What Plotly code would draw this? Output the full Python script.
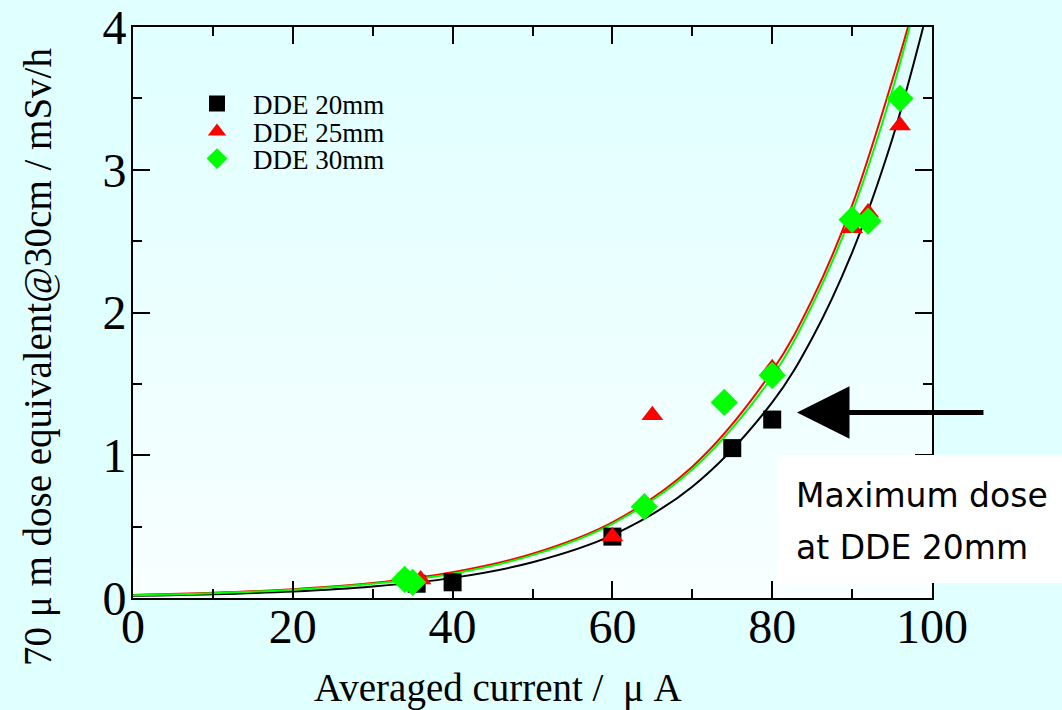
import plotly.graph_objects as go

# ---- measured data ----
x20 = [35.5, 40, 60, 75, 80]
y20 = [0.10, 0.11, 0.43, 1.05, 1.25]

x25 = [36, 60, 65, 80, 90, 92, 96]
y25 = [0.13, 0.43, 1.28, 1.61, 2.59, 2.70, 3.31]

x30 = [34, 35, 64, 74, 80, 90, 92, 96]
y30 = [0.13, 0.11, 0.64, 1.37, 1.56, 2.65, 2.64, 3.50]

# fitted curves
cx20 = [0, 10, 20, 30, 40, 50, 60, 70, 80, 85, 90, 95, 98.9]
cy20 = [0.015, 0.026, 0.045, 0.080, 0.141, 0.25, 0.44, 0.78, 1.37, 1.82, 2.42, 3.21, 4.0]

cx25 = [0, 10, 20, 30, 40, 50, 60, 70, 80, 85, 90, 95, 97.0]
cy25 = [0.021, 0.036, 0.062, 0.105, 0.18, 0.31, 0.53, 0.92, 1.59, 2.09, 2.75, 3.62, 4.0]

cx30 = [0, 10, 20, 30, 40, 50, 60, 70, 80, 85, 90, 95, 97.2]
cy30 = [0.020, 0.034, 0.058, 0.10, 0.17, 0.30, 0.52, 0.90, 1.55, 2.05, 2.70, 3.55, 4.0]

names = ["DDE 20mm", "DDE 25mm", "DDE 30mm"]
colors = ["#000000", "#ff0000", "#00ff00"]

W, H = 1062, 710
L, R, T, B = 133, 130, 27, 112
PW, PH = W - L - R, H - T - B

SERIF = "Liberation Serif, Times New Roman, serif"

fig = go.Figure()

# curves
for cx, cy, c in [(cx20, cy20, colors[0]), (cx25, cy25, colors[1]), (cx30, cy30, colors[2])]:
    fig.add_trace(go.Scatter(x=cx, y=cy, mode="lines", line=dict(color=c, width=2, shape="spline"),
                             showlegend=False, hoverinfo="skip"))

# markers
fig.add_trace(go.Scatter(x=x20, y=y20, mode="markers", name=names[0], legend="legend",
                         marker=dict(symbol="square", size=18, color=colors[0])))
fig.add_trace(go.Scatter(x=x25, y=y25, mode="markers", name=names[1], legend="legend2",
                         marker=dict(symbol="triangle-up", size=19, color=colors[1])))
fig.add_trace(go.Scatter(x=x30, y=y30, mode="markers", name=names[2], legend="legend3",
                         marker=dict(symbol="diamond", size=21, color=colors[2])))

grad_svg = ("data:image/svg+xml;utf8,<svg xmlns='http://www.w3.org/2000/svg' width='100' height='100' "
            "preserveAspectRatio='none'><defs><linearGradient id='g' x1='0' y1='0' x2='0' y2='1'>"
            "<stop offset='0' stop-color='%23e0ffff'/><stop offset='1' stop-color='%23f8ffff'/>"
            "</linearGradient></defs><rect width='100' height='100' fill='url(%23g)'/></svg>")

axis_common = dict(showline=True, linecolor="black", linewidth=2, mirror="ticks", ticks="inside",
                   ticklen=17, tickwidth=2, tickcolor="black", showgrid=False, zeroline=False,
                   automargin=False,
                   tickfont=dict(family=SERIF, size=48, color="black"))

fig.update_xaxes(range=[0, 100], dtick=20, tick0=0, ticklabelstandoff=-15,
                 minor=dict(dtick=10, ticks="inside", ticklen=9, tickwidth=2, tickcolor="black"),
                 **axis_common)
fig.update_yaxes(range=[0, 4], dtick=1, tick0=0, ticklabelstandoff=-5,
                 minor=dict(dtick=0.5, ticks="inside", ticklen=9, tickwidth=2, tickcolor="black"),
                 **axis_common)

def px(xp):
    return (xp - L) / PW

def py(yp):
    return (H - B - yp) / PH

def leg(yp):
    return dict(x=px(181), xanchor="left", y=py(yp), yanchor="middle", bgcolor="rgba(0,0,0,0)",
                font=dict(family=SERIF, size=27, color="black"), itemwidth=62)

fig.update_layout(
    width=W, height=H,
    margin=dict(l=L, r=R, t=T, b=B, pad=0, autoexpand=False),
    paper_bgcolor="#e0ffff",
    plot_bgcolor="rgba(0,0,0,0)",
    legend=leg(104),
    legend2=leg(132),
    legend3=leg(159),
    images=[dict(source=grad_svg, xref="paper", yref="paper", x=0, y=1, sizex=1, sizey=1,
                 sizing="stretch", layer="below", xanchor="left", yanchor="top")],
    shapes=[dict(type="rect", xref="paper", yref="paper",
                 x0=px(777), x1=px(1070), y0=py(583), y1=py(455),
                 fillcolor="white", line=dict(width=0), layer="above")],
    annotations=[
        dict(text="70 μ m dose equivalent@30cm / mSv/h", xref="paper", yref="paper",
             x=px(38), y=py(357), textangle=-90, showarrow=False,
             font=dict(family=SERIF, size=39, color="black"), xanchor="center", yanchor="middle"),
        dict(text="Averaged current /  μ A", xref="paper", yref="paper",
             x=px(498), y=py(688), showarrow=False,
             font=dict(family=SERIF, size=39, color="black"), xanchor="center", yanchor="middle"),
        dict(text="Maximum dose", xref="paper", yref="paper",
             x=px(794), y=py(495), showarrow=False, align="left",
             font=dict(family="DejaVu Sans", size=33, color="black"), xanchor="left", yanchor="middle"),
        dict(text="at DDE 20mm", xref="paper", yref="paper",
             x=px(794), y=py(547), showarrow=False, align="left",
             font=dict(family="DejaVu Sans", size=33, color="black"), xanchor="left", yanchor="middle"),
        dict(text="", x=83.1, y=1.30, xref="x", yref="y", ax=188, ay=0, showarrow=True,
             arrowhead=2, arrowwidth=5, arrowsize=2.1, arrowcolor="black", standoff=0),
    ],
)

fig.write_html("out.html", config={"displayModeBar": False},
               post_script="document.body.style.margin='0';")
